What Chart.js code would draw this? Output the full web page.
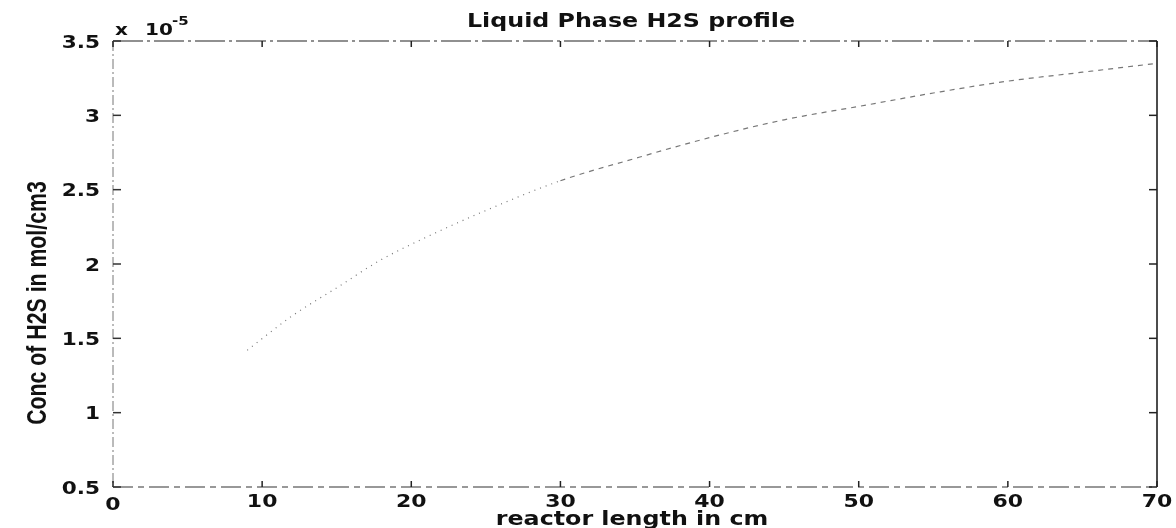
<!DOCTYPE html>
<html>
<head>
<meta charset="utf-8">
<title>Liquid Phase H2S profile</title>
<script src="https://cdn.jsdelivr.net/npm/chart.js@4.4.1/dist/chart.umd.min.js"></script>
<style>
  html, body { margin: 0; padding: 0; background: #fff; }
  #wrap { width: 1176px; height: 528px; }
</style>
</head>
<body>
<div id="wrap"><canvas id="chart" width="1176" height="528"></canvas></div>
<script>
// values (conc in units of 1e-5 mol/cm3)
const reactorLength = [9, 12, 15, 18, 21, 25, 30, 35, 40, 45, 50, 55, 60, 65, 70];
const h2sConc = [1.42, 1.65, 1.84, 2.03, 2.18, 2.36, 2.56, 2.71, 2.85, 2.97, 3.06, 3.15, 3.23, 3.29, 3.35];

const xTicks = [0, 10, 20, 30, 40, 50, 60, 70];
const xTickLabels = ['0', '10', '20', '30', '40', '50', '60', '70'];
const yTicks = [0.5, 1, 1.5, 2, 2.5, 3, 3.5];
const yTickLabels = ['0.5', '1', '1.5', '2', '2.5', '3', '3.5'];
const exponentText = '-5';

const titleText = 'Liquid Phase H2S profile';
const xTitle = 'reactor length in cm';
const yTitle = 'Conc of H2S in mol/cm3';

// the scan is stretched sideways, so text gets a horizontal scale
function wideText(ctx, text, x, y, font, stretch, align) {
  ctx.save();
  ctx.font = font;
  const w = ctx.measureText(text).width * stretch;
  let left = x;
  if (align === 'center') left = x - w / 2;
  else if (align === 'right') left = x - w;
  ctx.translate(left, y);
  ctx.scale(stretch, 1);
  ctx.textAlign = 'left';
  ctx.textBaseline = 'alphabetic';
  ctx.fillStyle = '#111';
  ctx.fillText(text, 0, 0);
  ctx.restore();
}

function line(ctx, x1, y1, x2, y2, color, width, dash) {
  ctx.save();
  ctx.strokeStyle = color;
  ctx.lineWidth = width;
  ctx.setLineDash(dash || []);
  ctx.beginPath();
  ctx.moveTo(x1, y1);
  ctx.lineTo(x2, y2);
  ctx.stroke();
  ctx.restore();
}

const matlabFrame = {
  id: 'matlabFrame',
  afterDraw(chart) {
    const ctx = chart.ctx;
    const {left, right, top, bottom} = chart.chartArea;
    const xs = chart.scales.x;
    const ys = chart.scales.y;
    const tickFont = 'bold 18px "DejaVu Sans"';

    // box
    line(ctx, left, top, right, top, '#222', 1.2, [30, 4, 3, 4]);
    line(ctx, left, bottom, right, bottom, '#333', 1.2, [20, 5, 6, 5]);
    line(ctx, left, top, left, bottom, '#777', 1, [10, 3, 2, 3]);
    line(ctx, right, top, right, bottom, '#111', 1.5);

    // inward ticks and labels
    xTicks.forEach((v, i) => {
      const px = xs.getPixelForValue(v);
      line(ctx, px, bottom, px, bottom - 6, '#222', 1.5);
      line(ctx, px, top, px, top + 6, '#222', 1.5);
      wideText(ctx, xTickLabels[i], px, v === 0 ? 510 : 507, tickFont, 1.22, 'center');
    });
    yTicks.forEach((v, i) => {
      const py = ys.getPixelForValue(v);
      line(ctx, left, py, left + 8, py, '#333', 1.5);
      line(ctx, right, py, right - 8, py, '#222', 1.5);
      wideText(ctx, yTickLabels[i], 100, py + 6.5, tickFont, 1.2, 'right');
    });

    // exponent
    wideText(ctx, 'x', 115, 35, 'bold 16px "DejaVu Sans"', 1.25, 'left');
    wideText(ctx, '10', 145, 35, 'bold 16px "DejaVu Sans"', 1.25, 'left');
    wideText(ctx, exponentText, 172, 25, 'bold 12px "DejaVu Sans"', 1.25, 'left');

    // titles
    wideText(ctx, titleText, 631, 27, 'bold 19px "DejaVu Sans"', 1.25, 'center');
    wideText(ctx, xTitle, 632, 525, 'bold 19px "DejaVu Sans"', 1.25, 'center');

    ctx.save();
    ctx.font = 'bold 28px "Liberation Sans"';
    const sx = 0.76;
    const w = ctx.measureText(yTitle).width * sx;
    ctx.translate(46, 303);
    ctx.rotate(-Math.PI / 2);
    ctx.scale(sx, 1);
    ctx.fillStyle = '#111';
    ctx.textBaseline = 'alphabetic';
    ctx.fillText(yTitle, -w / 2 / sx, 0);
    ctx.restore();
  }
};

const chart = new Chart(document.getElementById('chart'), {
  type: 'line',
  data: {
    datasets: [{
      data: reactorLength.map((x, i) => ({ x: x, y: h2sConc[i] })),
      borderColor: '#777',
      borderWidth: 1.2,
      pointRadius: 0,
      fill: false,
      cubicInterpolationMode: 'monotone',
      segment: {
        borderDash: c => c.p0.parsed.x < 30 ? [1, 5] : [5, 5]
      }
    }]
  },
  options: {
    responsive: false,
    animation: false,
    layout: { padding: { top: 41, right: 19, left: 0, bottom: 0 } },
    plugins: { legend: { display: false }, tooltip: { enabled: false } },
    scales: {
      x: {
        type: 'linear',
        min: 0,
        max: 70,
        afterBuildTicks: s => { s.ticks = xTicks.map(v => ({ value: v })); },
        afterFit: s => { s.height = 41; },
        ticks: { display: false },
        grid: { display: false, drawTicks: false },
        border: { display: false }
      },
      y: {
        min: 0.5,
        max: 3.5,
        afterBuildTicks: s => { s.ticks = yTicks.map(v => ({ value: v })); },
        afterFit: s => { s.width = 113; },
        ticks: { display: false },
        grid: { display: false, drawTicks: false },
        border: { display: false }
      }
    }
  },
  plugins: [matlabFrame]
});
</script>
</body>
</html>
